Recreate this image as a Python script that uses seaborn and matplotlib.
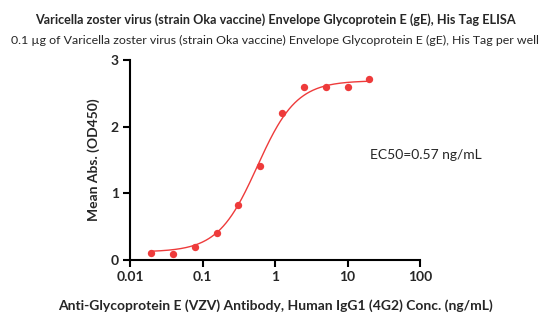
import numpy as np
import pandas as pd
import matplotlib
matplotlib.use("Agg")
import matplotlib.pyplot as plt
import seaborn as sns

conc = [0.0195, 0.039, 0.078, 0.156, 0.3125, 0.625, 1.25, 2.5, 5, 10, 20]
od450 = [0.11, 0.09, 0.19, 0.40, 0.82, 1.41, 2.21, 2.60, 2.59, 2.60, 2.72]

# 4PL fit parameters
fit_bottom = 0.12
fit_top = 2.69
fit_ec50 = 0.57
fit_hill = 1.6

xticks = [0.01, 0.1, 1, 10, 100]
xtick_labels = ["0.01", "0.1", "1", "10", "100"]
yticks = [0, 1, 2, 3]

title = "Varicella zoster virus (strain Oka vaccine) Envelope Glycoprotein E (gE), His Tag ELISA"
subtitle = "0.1 µg of Varicella zoster virus (strain Oka vaccine) Envelope Glycoprotein E (gE), His Tag per well"
xlabel = "Anti-Glycoprotein E (VZV) Antibody, Human IgG1 (4G2) Conc. (ng/mL)"
ylabel = "Mean Abs. (OD450)"
ec50_text = "EC50=0.57 ng/mL"

sns.set_theme(style="white")
plt.rcParams['font.family'] = ['Lato', 'DejaVu Sans']

color = "#ee3b3b"

fig = plt.figure(figsize=(5.5, 3.27), dpi=100)
ax = fig.add_axes([130/550, 1-260/327, 290/550, 200/327])

df = pd.DataFrame({"conc": conc, "od": od450})
xs = np.logspace(np.log10(min(conc)), np.log10(max(conc)), 300)
ys = fit_bottom + (fit_top - fit_bottom) / (1 + (fit_ec50 / xs) ** fit_hill)
curve = pd.DataFrame({"conc": xs, "od": ys})

sns.lineplot(data=curve, x="conc", y="od", ax=ax, color=color, linewidth=1.0)
sns.scatterplot(data=df, x="conc", y="od", ax=ax, color=color, s=28, edgecolor=color, linewidth=0, zorder=3)

ax.set_xscale("log")
ax.set_xlim(0.01, 100)
ax.set_ylim(0, 3)
ax.set_xticks(xticks)
ax.set_xticklabels(xtick_labels)
ax.set_yticks(yticks)
ax.xaxis.set_minor_locator(matplotlib.ticker.NullLocator())

for s in ["top", "right"]:
    ax.spines[s].set_visible(False)
for s in ["left", "bottom"]:
    ax.spines[s].set_color("black")
    ax.spines[s].set_linewidth(1.5)

ax.tick_params(axis="both", which="major", direction="out", length=5, width=1.5,
               color="black", labelsize=10, bottom=True, left=True, pad=3)
for lab in ax.get_xticklabels() + ax.get_yticklabels():
    lab.set_fontweight("bold")

ax.set_xlabel(xlabel, fontsize=10, fontweight="bold", labelpad=12)
ax.set_ylabel(ylabel, fontsize=10, fontweight="bold", labelpad=8)

ax.text(20.5, 1.57, ec50_text, fontsize=10, va="center", ha="left")

fig.text(0.5, 1-20/327, title, ha="center", va="center", fontsize=9.1, fontweight="bold")
fig.text(0.5, 1-40/327, subtitle, ha="center", va="center", fontsize=8.9)

fig.savefig("out.png", dpi=100, facecolor="white")
